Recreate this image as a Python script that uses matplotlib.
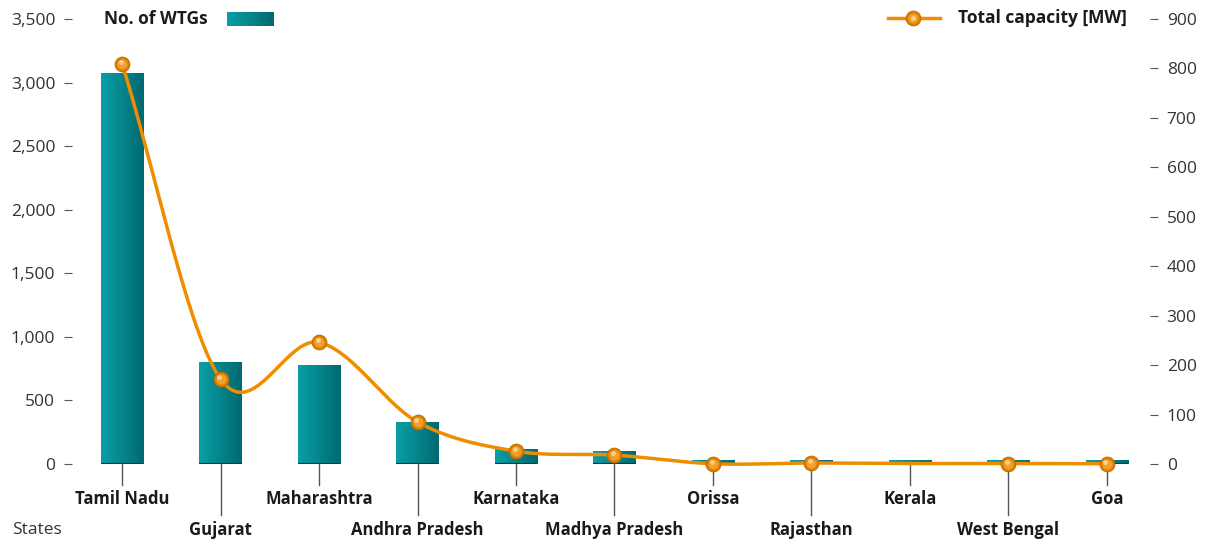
import numpy as np
import matplotlib
matplotlib.use("Agg")
import matplotlib.pyplot as plt
from matplotlib.colors import LinearSegmentedColormap
from matplotlib.lines import Line2D

plt.rcParams['font.family'] = ['Open Sans', 'DejaVu Sans']

states = ['Tamil Nadu', 'Gujarat', 'Maharashtra', 'Andhra Pradesh', 'Karnataka',
          'Madhya Pradesh', 'Orissa', 'Rajasthan', 'Kerala', 'West Bengal', 'Goa']
wtgs = [3075, 805, 780, 332, 118, 104, 28, 28, 28, 28, 28]
capacity_mw = [810, 172, 246, 85, 26, 18, 0.5, 2, 1, 1, 0.5]
has_marker = [True, True, True, True, True, True, True, True, False, True, True]

teal = LinearSegmentedColormap.from_list('teal', ['#0a9fa6', '#006a70'])
orange = '#f08c00'
txt = '#1a1a1a'


def catmull_rom(x, y, n=40):
    # smooth curve through every point (uniform Catmull-Rom)
    x = np.asarray(x, float)
    y = np.asarray(y, float)
    px = np.concatenate([[2 * x[0] - x[1]], x, [2 * x[-1] - x[-2]]])
    py = np.concatenate([[2 * y[0] - y[1]], y, [2 * y[-1] - y[-2]]])
    xs, ys = [], []
    t = np.linspace(0, 1, n, endpoint=False)
    for i in range(1, len(px) - 2):
        for p, out in ((px, xs), (py, ys)):
            p0, p1, p2, p3 = p[i - 1], p[i], p[i + 1], p[i + 2]
            out.append(0.5 * (2 * p1 + (-p0 + p2) * t
                              + (2 * p0 - 5 * p1 + 4 * p2 - p3) * t ** 2
                              + (-p0 + 3 * p1 - 3 * p2 + p3) * t ** 3))
    xs.append([x[-1]])
    ys.append([y[-1]])
    return np.concatenate(xs), np.concatenate(ys)


fig = plt.figure(figsize=(12.14, 5.56), dpi=100)
ax = fig.add_axes([72 / 1214, 92 / 556, (1150 - 72) / 1214, 445 / 556])
ax2 = ax.twinx()

x = np.arange(len(states))
width = 0.43
bars = ax.bar(x, wtgs, width=width, color='none', edgecolor='none')
grad = np.linspace(0, 1, 64).reshape(1, -1)
for b in bars:
    x0, y0 = b.get_x(), b.get_y()
    img = ax.imshow(grad, extent=[x0, x0 + b.get_width(), y0, y0 + b.get_height()],
                    aspect='auto', cmap=teal, zorder=2, interpolation='bicubic')
    img.set_clip_path(b)
ax.hlines([0] * len(x), x - width / 2, x + width / 2, color='#0b3f44', lw=1.6, zorder=3)

# category ticks: alternating short / long leaders
xt = ax.get_xaxis_transform()
for i, s in enumerate(states):
    long = i % 2 == 1
    ax.plot([i, i], [0, -0.115 if long else -0.047], transform=xt, color='#555555',
            lw=1, clip_on=False)
    ax.text(i, -0.148 if long else -0.079, s, transform=xt, ha='center', va='center',
            fontsize=12, fontweight='bold', color=txt)
fig.text(12 / 1214, 1 - 530 / 556, 'States', ha='left', va='center', fontsize=12.5, color='#333333')

# capacity line
cx, cy = catmull_rom(x, capacity_mw)
ax2.plot(cx, cy, color=orange, lw=2.5, zorder=4, solid_capstyle='round', clip_on=False)
mx = x[np.array(has_marker)]
my = np.array(capacity_mw)[np.array(has_marker)]
ax2.plot(mx, my, 'o', ms=10.5, mfc='#e08400', mec='#c46a00', mew=0.8, zorder=5, clip_on=False)
ax2.plot(mx, my, 'o', ms=7, mfc='#f2a030', mec='none', zorder=6, clip_on=False)
ax2.plot(mx - 0.015, my + 4, 'o', ms=3.5, mfc='#f9cf8c', mec='none', zorder=7, clip_on=False)

ax.set_xlim(-0.508, 10.437)
ax.set_ylim(0, 3500)
ax2.set_ylim(0, 900)
ax.set_xticks([])
ax.set_yticks(np.arange(0, 3501, 500))
ax.set_yticklabels([f'{v:,}' for v in range(0, 3501, 500)])
ax2.set_yticks(np.arange(0, 901, 100))
for a in (ax, ax2):
    for sp in a.spines.values():
        sp.set_visible(False)
    a.tick_params(axis='y', length=6, width=0.8, color='#555555', pad=6,
                  labelsize=12.5, labelcolor='#333333')

# legends
fig.text(208 / 1214, 1 - 19 / 556, 'No. of WTGs', ha='right', va='center',
         fontsize=12.5, fontweight='bold', color=txt)
lax = fig.add_axes([227 / 1214, 1 - 26 / 556, 47 / 1214, 14 / 556])
lax.imshow(grad, aspect='auto', cmap=teal, interpolation='bicubic')
lax.axis('off')

fy = 1 - 18 / 556
fig.add_artist(Line2D([888 / 1214, 940 / 1214], [fy, fy], color=orange, lw=2.5,
                      transform=fig.transFigure))
for ms, fc, ec in ((10.5, '#e08400', '#c46a00'), (7, '#f2a030', 'none'), (3.5, '#f9cf8c', 'none')):
    fig.add_artist(Line2D([913 / 1214], [fy], marker='o', ms=ms, mfc=fc, mec=ec, mew=0.8,
                          transform=fig.transFigure))
fig.text(1127 / 1214, fy, 'Total capacity [MW]', ha='right', va='center',
         fontsize=12.5, fontweight='bold', color=txt)

fig.savefig('out.png', dpi=100)
